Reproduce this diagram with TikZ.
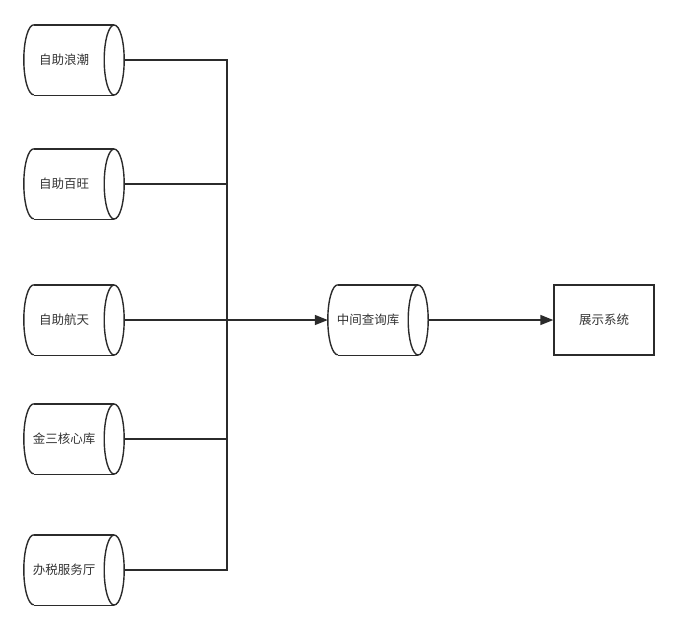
\documentclass[tikz,border=0pt]{standalone}
\usepackage{fontspec}
\newfontfamily\cjk{Noto Sans CJK SC}
\usetikzlibrary{arrows.meta}
\definecolor{lc}{HTML}{2B2B2B}
\definecolor{tc}{HTML}{333333}
\tikzset{
  cylnode/.style={minimum width=100pt, minimum height=70pt, inner sep=0pt, draw=none},
  boxnode/.style={draw=lc, line width=1.4pt, minimum width=100pt, minimum height=70pt, inner sep=0pt, font=\cjk\fontsize{12.5pt}{14pt}\selectfont, text=tc},
  lbl/.style={font=\cjk\fontsize{12.5pt}{14pt}\selectfont, text=tc, inner sep=0pt},
  ln/.style={draw=lc, line width=1.4pt},
  arr/.style={ln, -{Triangle[length=13pt, width=10pt]}}
}
\newcommand\mycyl[4]{%
  \node[cylnode] (#1) at (#2,#3) {};
  \draw[ln] ([xshift=10pt]#1.north west) -- ([xshift=-10pt]#1.north east);
  \draw[ln] ([xshift=10pt]#1.south west) -- ([xshift=-10pt]#1.south east);
  \draw[ln] ([xshift=10pt]#1.north west) arc[start angle=90, end angle=270, x radius=10pt, y radius=35pt];
  \draw[ln] ([xshift=-10pt]#1.east) ellipse[x radius=10pt, y radius=35pt];
  \node[lbl] (#1t) at ([xshift=-10pt]#1.center) {#4};
}
\begin{document}
\begin{tikzpicture}[x=1pt, y=-1pt]
\useasboundingbox (0,0) rectangle (679,630);
\mycyl{c1}{74}{60}{自助浪潮}
\mycyl{c2}{74}{184}{自助百旺}
\mycyl{c3}{74}{320}{自助航天}
\mycyl{c4}{74}{439}{金三核心库}
\mycyl{c5}{74}{570}{办税服务厅}
\mycyl{mid}{378}{320}{中间查询库}
\node[boxnode] (sys) at (604,320) {展示系统};
\coordinate (j) at (227,320);
\draw[ln] (c1.east) -| (j);
\draw[ln] (c2.east) -| (j);
\draw[ln] (c4.east) -| (j);
\draw[ln] (c5.east) -| (j);
\draw[arr] (c3.east) -- (mid.west);
\draw[arr] (mid.east) -- (sys.west);
\end{tikzpicture}
\end{document}
